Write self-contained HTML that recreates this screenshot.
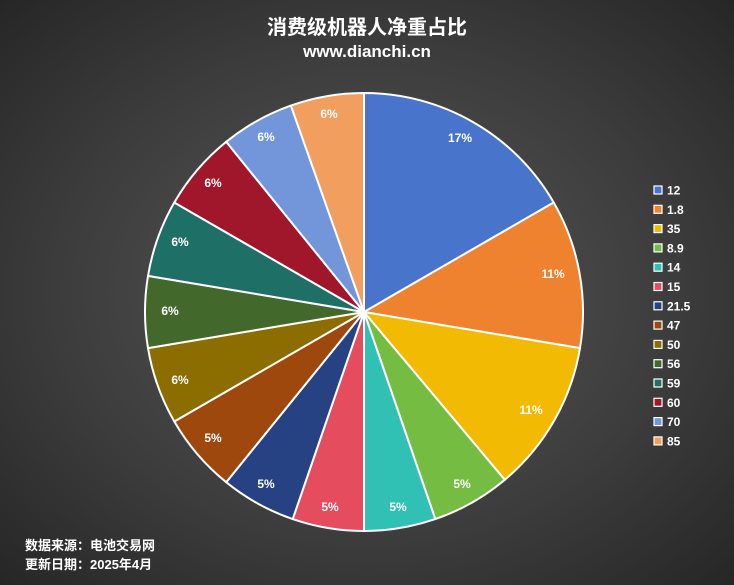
<!DOCTYPE html>
<html><head><meta charset="utf-8"><style>
html,body{margin:0;padding:0}
body{width:734px;height:585px;overflow:hidden;background:radial-gradient(ellipse at 50% 50%,#585858 0%,#3c3c3c 60%,#262626 100%);font-family:"Liberation Sans","Noto Sans CJK SC",sans-serif}
svg{position:absolute;left:0;top:0}
</style></head><body>
<svg width="734" height="585" viewBox="0 0 734 585">
<g font-family="Liberation Sans, Noto Sans CJK SC, sans-serif" font-weight="bold" fill="#fff">
<text x="367" y="34" font-size="20" text-anchor="middle">消费级机器人净重占比</text>
<text x="367" y="57" font-size="17" text-anchor="middle">www.dianchi.cn</text>
</g>
<g stroke="#fff" stroke-width="2" stroke-linejoin="round">
<path d="M364,312 L364,93 A219,219 0 0 1 553.7,202.5Z" fill="#4874CB"/>
<path d="M364,312 L553.7,202.5 A219,219 0 0 1 580,348.1Z" fill="#EE822F"/>
<path d="M364,312 L580,348.1 A219,219 0 0 1 504.8,479.8Z" fill="#F2BA02"/>
<path d="M364,312 L504.8,479.8 A219,219 0 0 1 435.3,519.1Z" fill="#75BD42"/>
<path d="M364,312 L435.3,519.1 A219,219 0 0 1 364,531Z" fill="#30C0B4"/>
<path d="M364,312 L364,531 A219,219 0 0 1 292.7,519.1Z" fill="#E54C5E"/>
<path d="M364,312 L292.7,519.1 A219,219 0 0 1 226.2,482.2Z" fill="#264283"/>
<path d="M364,312 L226.2,482.2 A219,219 0 0 1 174.3,421.5Z" fill="#9E480E"/>
<path d="M364,312 L174.3,421.5 A219,219 0 0 1 148,348.1Z" fill="#8C6D00"/>
<path d="M364,312 L148,348.1 A219,219 0 0 1 148,275.9Z" fill="#43682B"/>
<path d="M364,312 L148,275.9 A219,219 0 0 1 174.3,202.5Z" fill="#1E7066"/>
<path d="M364,312 L174.3,202.5 A219,219 0 0 1 226.2,141.8Z" fill="#A0172B"/>
<path d="M364,312 L226.2,141.8 A219,219 0 0 1 290.9,105.6Z" fill="#7296D9"/>
<path d="M364,312 L290.9,105.6 A219,219 0 0 1 364,93Z" fill="#F29E5E"/>
</g>
<g font-family="Liberation Sans, sans-serif" font-weight="bold" font-size="12" fill="#fff" text-anchor="middle">
<text x="460" y="142">17%</text><text x="553" y="278">11%</text><text x="531" y="414">11%</text>
<text x="462" y="488">5%</text><text x="398" y="511">5%</text><text x="330" y="511">5%</text>
<text x="266" y="488">5%</text><text x="213" y="442">5%</text><text x="180" y="384">6%</text>
<text x="170" y="315">6%</text><text x="180" y="246">6%</text><text x="213" y="187">6%</text>
<text x="266" y="141">6%</text><text x="329" y="118">6%</text>
</g>
<g stroke="#fff" stroke-width="1.2">
<rect x="654" y="186" width="8" height="8" fill="#4874CB"/>
<rect x="654" y="205.3" width="8" height="8" fill="#EE822F"/>
<rect x="654" y="224.6" width="8" height="8" fill="#F2BA02"/>
<rect x="654" y="243.9" width="8" height="8" fill="#75BD42"/>
<rect x="654" y="263.2" width="8" height="8" fill="#30C0B4"/>
<rect x="654" y="282.5" width="8" height="8" fill="#E54C5E"/>
<rect x="654" y="301.8" width="8" height="8" fill="#264283"/>
<rect x="654" y="321.1" width="8" height="8" fill="#9E480E"/>
<rect x="654" y="340.4" width="8" height="8" fill="#8C6D00"/>
<rect x="654" y="359.7" width="8" height="8" fill="#43682B"/>
<rect x="654" y="379" width="8" height="8" fill="#1E7066"/>
<rect x="654" y="398.3" width="8" height="8" fill="#A0172B"/>
<rect x="654" y="417.6" width="8" height="8" fill="#7296D9"/>
<rect x="654" y="436.9" width="8" height="8" fill="#F29E5E"/>
</g>
<g font-family="Liberation Sans, sans-serif" font-weight="bold" font-size="12" fill="#fff">
<text x="667" y="194.5">12</text><text x="667" y="213.8">1.8</text><text x="667" y="233.1">35</text>
<text x="667" y="252.4">8.9</text><text x="667" y="271.7">14</text><text x="667" y="291">15</text>
<text x="667" y="310.3">21.5</text><text x="667" y="329.6">47</text><text x="667" y="348.9">50</text>
<text x="667" y="368.2">56</text><text x="667" y="387.5">59</text><text x="667" y="406.8">60</text>
<text x="667" y="426.1">70</text><text x="667" y="445.4">85</text>
</g>
<g font-family="Liberation Sans, Noto Sans CJK SC, sans-serif" font-weight="bold" font-size="13" fill="#fff">
<text x="25" y="550">数据来源：电池交易网</text>
<text x="25" y="569">更新日期：2025年4月</text>
</g>
</svg>
</body></html>
